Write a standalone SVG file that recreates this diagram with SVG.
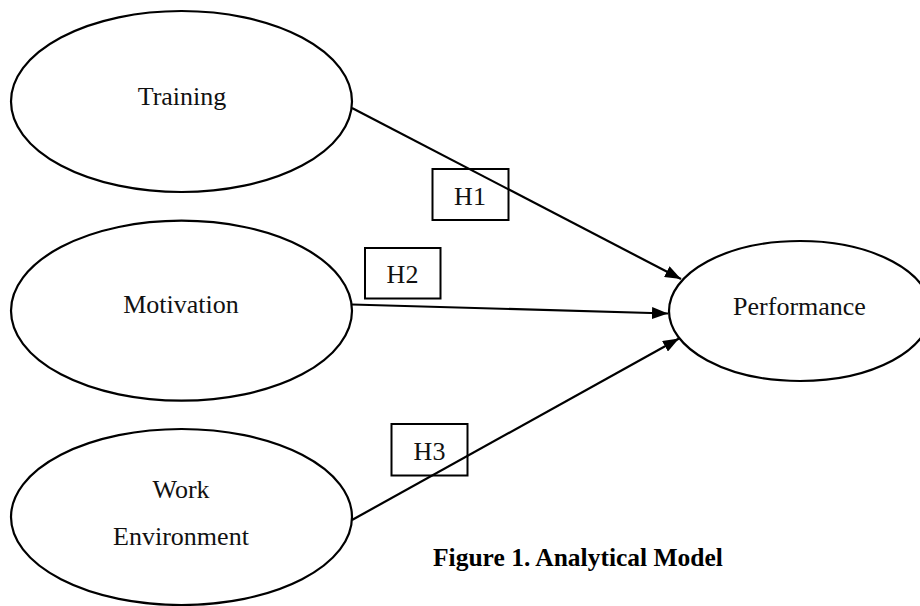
<svg xmlns="http://www.w3.org/2000/svg" width="920" height="606" viewBox="0 0 920 606">
<style>
.node{fill:#fff;stroke:#000;stroke-width:2.2}
.lbl{font-family:"Liberation Serif","Times New Roman",serif;font-size:26px;fill:#111;text-anchor:middle}
.box{fill:none;stroke:#000;stroke-width:2}
.edge{stroke:#000;stroke-width:2.2;fill:none;marker-end:url(#arr)}
.cap{font-family:"Liberation Serif","Times New Roman",serif;font-size:25.5px;font-weight:bold;fill:#000;text-anchor:middle}
</style>
<defs>
<marker id="arr" viewBox="0 0 16 12" refX="16" refY="6" markerWidth="16" markerHeight="12" markerUnits="userSpaceOnUse" orient="auto">
<path d="M0,0 L16,6 L0,12 Z" fill="#000"/>
</marker>
</defs>
<rect width="920" height="606" fill="#fff"/>
<g id="training"><ellipse class="node" cx="181.5" cy="101.5" rx="170.5" ry="90.5"/><text class="lbl" x="182" y="105">Training</text></g>
<g id="motivation"><ellipse class="node" cx="181.5" cy="310.7" rx="170.5" ry="90"/><text class="lbl" x="181" y="313">Motivation</text></g>
<g id="work-environment"><ellipse class="node" cx="181.5" cy="517" rx="170.5" ry="88"/><text class="lbl" x="181" y="498">Work</text><text class="lbl" x="181" y="545">Environment</text></g>
<g id="performance"><ellipse class="node" cx="800" cy="311" rx="131" ry="70"/><text class="lbl" x="799.5" y="315">Performance</text></g>
<g id="connectors">
<line class="edge" x1="352" y1="108" x2="681" y2="279"/>
<line class="edge" x1="352" y1="304.5" x2="668" y2="313.5"/>
<line class="edge" x1="352" y1="520" x2="679" y2="338.5"/>
</g>
<g id="h1"><rect class="box" x="432.5" y="169" width="76" height="51"/><text class="lbl" x="470" y="205">H1</text></g>
<g id="h2"><rect class="box" x="365" y="248" width="75.5" height="50.5"/><text class="lbl" x="402.5" y="283">H2</text></g>
<g id="h3"><rect class="box" x="391.5" y="424" width="76" height="51.5"/><text class="lbl" x="429.5" y="460">H3</text></g>
<text class="cap" x="578" y="566">Figure 1. Analytical Model</text>
</svg>
